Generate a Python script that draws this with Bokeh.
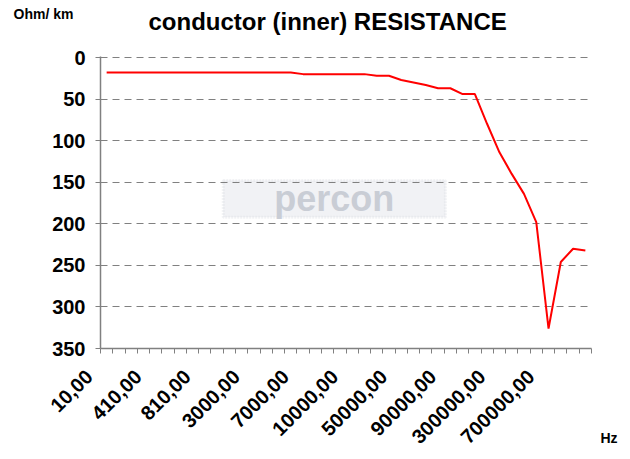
import math
from bokeh.plotting import figure
from bokeh.layouts import column, row
from bokeh.models import Range1d, FixedTicker, Label, BoxAnnotation, LinearAxis
from bokeh.embed import file_html
from bokeh.resources import INLINE

# Frequency categories (Hz) - only every 4th is labelled on the axis
FREQ = [10, 110, 210, 310, 410, 510, 610, 710, 810, 910,
        1000, 2000, 3000, 4000, 5000, 6000, 7000, 8000, 9000, 9500,
        10000, 20000, 30000, 40000, 50000, 60000, 70000, 80000, 90000, 100000,
        200000, 250000, 300000, 400000, 500000, 600000, 700000, 800000, 900000, 1000000]

# Conductor (inner) resistance, Ohm/km
RES = [18, 18, 18, 18, 18, 18, 18, 18, 18, 18,
       18, 18, 18, 18, 18, 18, 20, 20, 20, 20,
       20, 20, 22, 22, 27, 30, 33, 37, 37, 44,
       44, 80, 114, 140, 164, 198, 326, 246, 230, 232]

Y_TICKS = [0, 50, 100, 150, 200, 250, 300, 350]
LABEL_EVERY = 4

TITLE = "conductor  (inner) RESISTANCE"
Y_UNIT = "Ohm/ km"
X_UNIT = "Hz"
WATERMARK = "percon"

FONT = "Liberation Sans"
PAD = "\u00a0" * 4   # shifts rotated tick labels down-left like the original

W, H = 630, 459
HEAD_H = 47
SIDE_W = 34

n = len(FREQ)
xs = [i + 0.5 for i in range(n)]
labelled = [i for i in range(n) if i % LABEL_EVERY == 0 and i + 3 < n]
overrides = {}
for i in labelled:
    overrides[i + 0.35] = f"{FREQ[i]},00" + PAD


def blank(width, height, xr, yr):
    f = figure(width=width, height=height, x_range=xr, y_range=yr,
               output_backend="svg", toolbar_location=None,
               x_axis_location=None, y_axis_location=None, min_border=0)
    f.grid.visible = False
    f.outline_line_color = None
    f.background_fill_color = "white"
    f.border_fill_color = "white"
    return f


# ---- header with the unit and the title
header = blank(W, HEAD_H, Range1d(0, W), Range1d(HEAD_H, 0))
header.add_layout(Label(x=13, y=13, text=Y_UNIT, text_align="left",
                        text_baseline="middle", text_font=FONT,
                        text_font_style="bold", text_font_size="14px",
                        text_color="black"))
header.add_layout(Label(x=148, y=21, text=TITLE, text_align="left",
                        text_baseline="middle", text_font=FONT,
                        text_font_style="bold", text_font_size="24px",
                        text_color="black"))

# ---- main chart
p = figure(width=W - SIDE_W, height=H - HEAD_H,
           x_range=Range1d(0, n), y_range=Range1d(Y_TICKS[-1], Y_TICKS[0] - 1.2),
           output_backend="svg", toolbar_location=None,
           min_border_left=100, min_border_right=5,
           min_border_top=9, min_border_bottom=111)
p.outline_line_color = None
p.background_fill_color = "white"
p.border_fill_color = "white"

p.xgrid.visible = False
p.ygrid.grid_line_color = "#808080"
p.ygrid.grid_line_dash = "7 5"
p.ygrid.grid_line_width = 1

p.yaxis.ticker = FixedTicker(ticks=Y_TICKS)
p.yaxis.axis_line_color = "#808080"
p.yaxis.axis_line_width = 1.5
p.yaxis.major_tick_line_color = "#808080"
p.yaxis.major_tick_out = 5
p.yaxis.major_tick_in = 0
p.yaxis.minor_tick_line_color = None
p.yaxis.major_label_text_font = FONT
p.yaxis.major_label_text_font_style = "bold"
p.yaxis.major_label_text_font_size = "20px"
p.yaxis.major_label_text_color = "black"
p.yaxis.major_label_standoff = 10

p.xaxis.ticker = FixedTicker(ticks=sorted(overrides.keys()),
                             minor_ticks=list(range(n + 1)))
p.xaxis.major_label_overrides = overrides
p.xaxis.axis_line_color = "#808080"
p.xaxis.axis_line_width = 1.5
p.xaxis.major_tick_line_color = None
p.xaxis.minor_tick_line_color = "#808080"
p.xaxis.minor_tick_out = 5
p.xaxis.minor_tick_in = 0
p.xaxis.major_label_orientation = math.pi / 4
p.xaxis.major_label_text_font = FONT
p.xaxis.major_label_text_font_style = "bold"
p.xaxis.major_label_text_font_size = "20px"
p.xaxis.major_label_text_color = "black"
p.xaxis.major_label_standoff = 3

# watermark logo (decorative)
p.add_layout(BoxAnnotation(left=10, right=28.1, top=148, bottom=192,
                           fill_color="#f1f2f5", fill_alpha=1.0,
                           line_color="#d3d6dd", line_width=3,
                           line_dash="2 1", level="image"))
p.add_layout(Label(x=19.05, y=170, text=WATERMARK, text_align="center",
                   text_baseline="middle", text_font=FONT,
                   text_font_style="bold", text_font_size="36px",
                   text_color="#c9cdd5", level="image"))

p.line(xs, RES, line_color="#ff0000", line_width=2)

# ---- right strip carrying the frequency unit as an axis label
side = blank(SIDE_W, H - HEAD_H, Range1d(W - SIDE_W, W), Range1d(0, 1))
hz_axis = LinearAxis(ticker=FixedTicker(ticks=[608.5], minor_ticks=[]),
                     major_label_overrides={608.5: X_UNIT},
                     axis_line_color=None, major_tick_line_color=None,
                     minor_tick_line_color=None,
                     major_tick_out=0, major_tick_in=0,
                     major_label_standoff=81,
                     major_label_text_font=FONT,
                     major_label_text_font_style="bold",
                     major_label_text_font_size="14px",
                     major_label_text_color="black")
side.add_layout(hz_axis, "below")

layout = column(header, row(p, side, spacing=0), spacing=0)

open("out.html", "w").write(file_html(layout, INLINE))
